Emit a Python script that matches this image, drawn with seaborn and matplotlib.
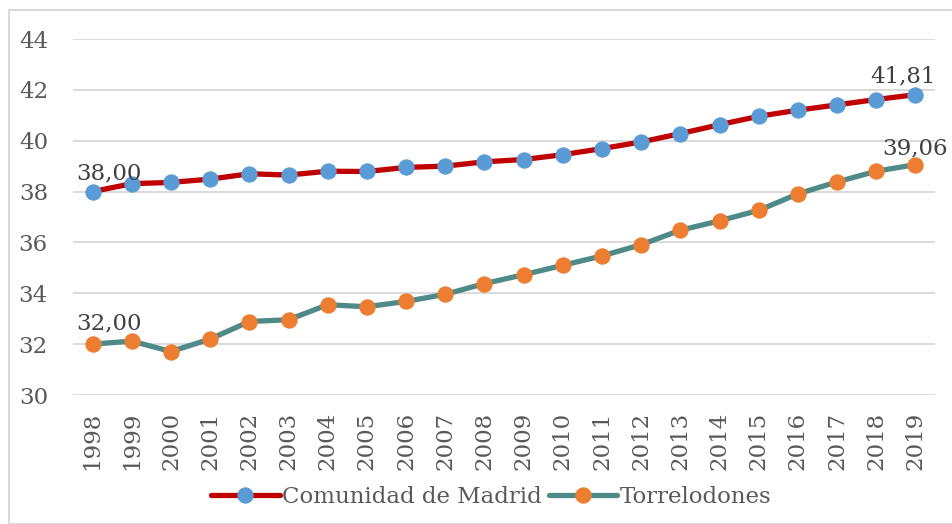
import matplotlib
matplotlib.use("Agg")
import matplotlib.pyplot as plt
import matplotlib.patches as mpatches
import seaborn as sns
import pandas as pd

# datos
years = list(range(1998, 2020))
madrid = [38.00, 38.31, 38.36, 38.49, 38.70, 38.65, 38.80, 38.79, 38.95, 39.00, 39.17,
          39.26, 39.45, 39.69, 39.95, 40.28, 40.63, 40.96, 41.20, 41.41, 41.62, 41.81]
torre = [32.00, 32.12, 31.71, 32.20, 32.89, 32.96, 33.55, 33.47, 33.68, 33.96, 34.38,
         34.73, 35.10, 35.47, 35.91, 36.48, 36.85, 37.26, 37.91, 38.38, 38.80, 39.06]
yticks = [30, 32, 34, 36, 38, 40, 42, 44]

df = pd.DataFrame({"year": years, "Comunidad de Madrid": madrid, "Torrelodones": torre})

sns.set_theme(style="white")
plt.rcParams["font.family"] = ["DejaVu Serif"]
TXT = "#595959"
FS = 16.5

fig = plt.figure(figsize=(9.52, 5.24), dpi=100)
ax = fig.add_axes([73 / 952, 1 - 395 / 524, (935 - 73) / 952, 356 / 524])

sns.lineplot(data=df, x="year", y="Comunidad de Madrid", ax=ax, color="#C00000", lw=3.8,
             marker="o", markersize=11, markerfacecolor="#5B9BD5", markeredgecolor="#5B9BD5",
             label="Comunidad de Madrid", zorder=3)
sns.lineplot(data=df, x="year", y="Torrelodones", ax=ax, color="#4E8A87", lw=3.8,
             marker="o", markersize=11, markerfacecolor="#ED7D31", markeredgecolor="#ED7D31",
             label="Torrelodones", zorder=3)

ax.set_xlim(years[0] - 0.5, years[-1] + 0.5)
ax.set_ylim(30, 44)
ax.set_yticks(yticks)
ax.set_xticks(years)
ax.set_xticklabels([str(y) for y in years], rotation=90)
ax.grid(axis="y", color="#D9D9D9", lw=1.4)
ax.set_axisbelow(True)
for s in ax.spines.values():
    s.set_visible(False)
ax.set_xlabel("")
ax.set_ylabel("")
ax.tick_params(axis="both", colors=TXT, labelsize=FS, length=0)
ax.tick_params(axis="y", pad=18)
ax.tick_params(axis="x", pad=12)

# etiquetas de datos
def lab(x, y, dx, dy):
    ax.annotate(f"{y:.2f}".replace(".", ","), (x, y), xytext=(dx, dy), textcoords="offset points",
                ha="center", va="bottom", fontsize=FS, color="#404040", zorder=4)

lab(years[0], madrid[0], 12, 5)
lab(years[0], torre[0], 12, 7)
lab(years[-1], madrid[-1], -9, 5)
lab(years[-1], torre[-1], 0, 4)

ax.get_legend().remove()
h, l = ax.get_legend_handles_labels()
fig.legend(h, l, loc="center", bbox_to_anchor=(0.516, 0.052), ncol=2, frameon=False,
           fontsize=FS, labelcolor=TXT, handlelength=3.0, handletextpad=0.1, columnspacing=0.3)

fig.patches.append(mpatches.Rectangle((9 / 952, 0), 1, 1 - 10 / 524, transform=fig.transFigure,
                                      fill=False, edgecolor="#D9D9D9", lw=1.5))

fig.savefig("out.png", dpi=100)
